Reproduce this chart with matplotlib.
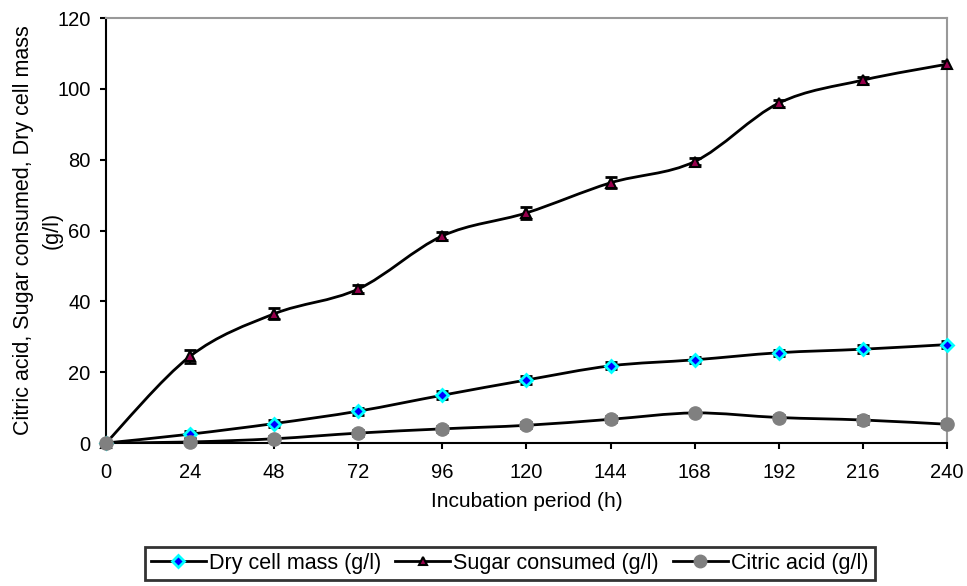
import matplotlib.pyplot as plt
from matplotlib.path import Path
from matplotlib.patches import PathPatch
from matplotlib.lines import Line2D

plt.rcParams['font.family'] = ['Liberation Sans', 'DejaVu Sans']

# data
hours = [0, 24, 48, 72, 96, 120, 144, 168, 192, 216, 240]
dry_cell = [0, 2.5, 5.5, 9.0, 13.5, 17.8, 21.8, 23.5, 25.5, 26.5, 27.8]
dry_err = [0.3, 1.0, 1.0, 1.0, 1.2, 1.0, 1.0, 0.8, 0.8, 1.2, 1.0]
sugar = [0, 24.5, 36.5, 43.5, 58.5, 65.0, 73.5, 79.5, 96.0, 102.5, 107.0]
sugar_err = [0.3, 1.8, 1.5, 1.2, 1.2, 1.8, 1.5, 1.0, 1.0, 1.0, 0.8]
citric = [0, 0.3, 1.2, 2.8, 4.0, 5.0, 6.7, 8.5, 7.2, 6.5, 5.3]
citric_err = [0.3, 0.8, 0.8, 0.8, 0.8, 0.8, 0.8, 0.6, 0.8, 1.0, 0.8]
labels = ['Dry cell mass (g/l)', 'Sugar consumed (g/l)', 'Citric acid (g/l)']


def smooth_path(x, y):
    # Bezier curve through the points, like Excel's smoothed line
    verts = [(x[0], y[0])]
    codes = [Path.MOVETO]
    n = len(x)
    for i in range(n - 1):
        x0, y0 = (x[i - 1], y[i - 1]) if i > 0 else (x[i], y[i])
        x3, y3 = (x[i + 2], y[i + 2]) if i + 2 < n else (x[i + 1], y[i + 1])
        c1 = (x[i] + (x[i + 1] - x0) / 6, y[i] + (y[i + 1] - y0) / 6)
        c2 = (x[i + 1] - (x3 - x[i]) / 6, y[i + 1] - (y3 - y[i]) / 6)
        verts += [c1, c2, (x[i + 1], y[i + 1])]
        codes += [Path.CURVE4] * 3
    return Path(verts, codes)


fig = plt.figure(figsize=(9.67, 5.86), dpi=100)
ax = fig.add_axes([0.1096, 0.244, 0.8697, 0.725])

series = [
    (dry_cell, dry_err, dict(marker='D', ms=6.5, mfc='#0000ff', mec='#00ffff', mew=2)),
    (sugar, sugar_err, dict(marker='^', ms=7.5, mfc='#99004d', mec='black', mew=1.5)),
    (citric, citric_err, dict(marker='o', ms=9.5, mfc='#808080', mec='#808080', mew=1)),
]

for vals, err, style in series:
    ax.add_patch(PathPatch(smooth_path(hours, vals), fc='none', ec='black', lw=2, zorder=2))
    ax.errorbar(hours, vals, yerr=err, fmt='none', ecolor='black', elinewidth=1.5,
                capsize=4.5, capthick=2, zorder=3)
    ax.plot(hours, vals, ls='none', zorder=4, clip_on=False, **style)

ax.set_xlim(0, 240)
ax.set_ylim(0, 120)
ax.set_xticks(hours)
ax.set_yticks(range(0, 121, 20))
ax.tick_params(direction='out', length=4.5, width=1.5, labelsize=14.5, color='black')
ax.tick_params(axis='x', pad=10)
ax.tick_params(axis='y', pad=6.5)
for s in ['left', 'bottom']:
    ax.spines[s].set_color('black')
    ax.spines[s].set_linewidth(1.5)
for s in ['top', 'right']:
    ax.spines[s].set_color('#999999')
    ax.spines[s].set_linewidth(1.5)

ax.set_xlabel('Incubation period (h)', fontsize=15, labelpad=7)
# y label, two lines
fig.text(0.0238, 0.607, 'Citric acid, Sugar consumed, Dry cell mass', fontsize=15.5,
         rotation=90, ha='center', va='center')
fig.text(0.0538, 0.607, '(g/l)', fontsize=15.5, rotation=90, ha='center', va='center')

handles = [Line2D([], [], color='black', lw=2, **st) for _, _, st in series]
handles[0].set_markersize(6)
handles[1].set_markersize(6)
handles[2].set_markersize(9)
leg = fig.legend(handles, labels, loc='center', bbox_to_anchor=(0.527, 0.0384), ncol=3,
                 fontsize=15.5, frameon=True, fancybox=False, edgecolor='black',
                 handlelength=2.55, handletextpad=0.15, columnspacing=0.65,
                 borderpad=0.28, borderaxespad=0)
leg.get_frame().set_linewidth(2)

fig.savefig('out.png', dpi=100)
